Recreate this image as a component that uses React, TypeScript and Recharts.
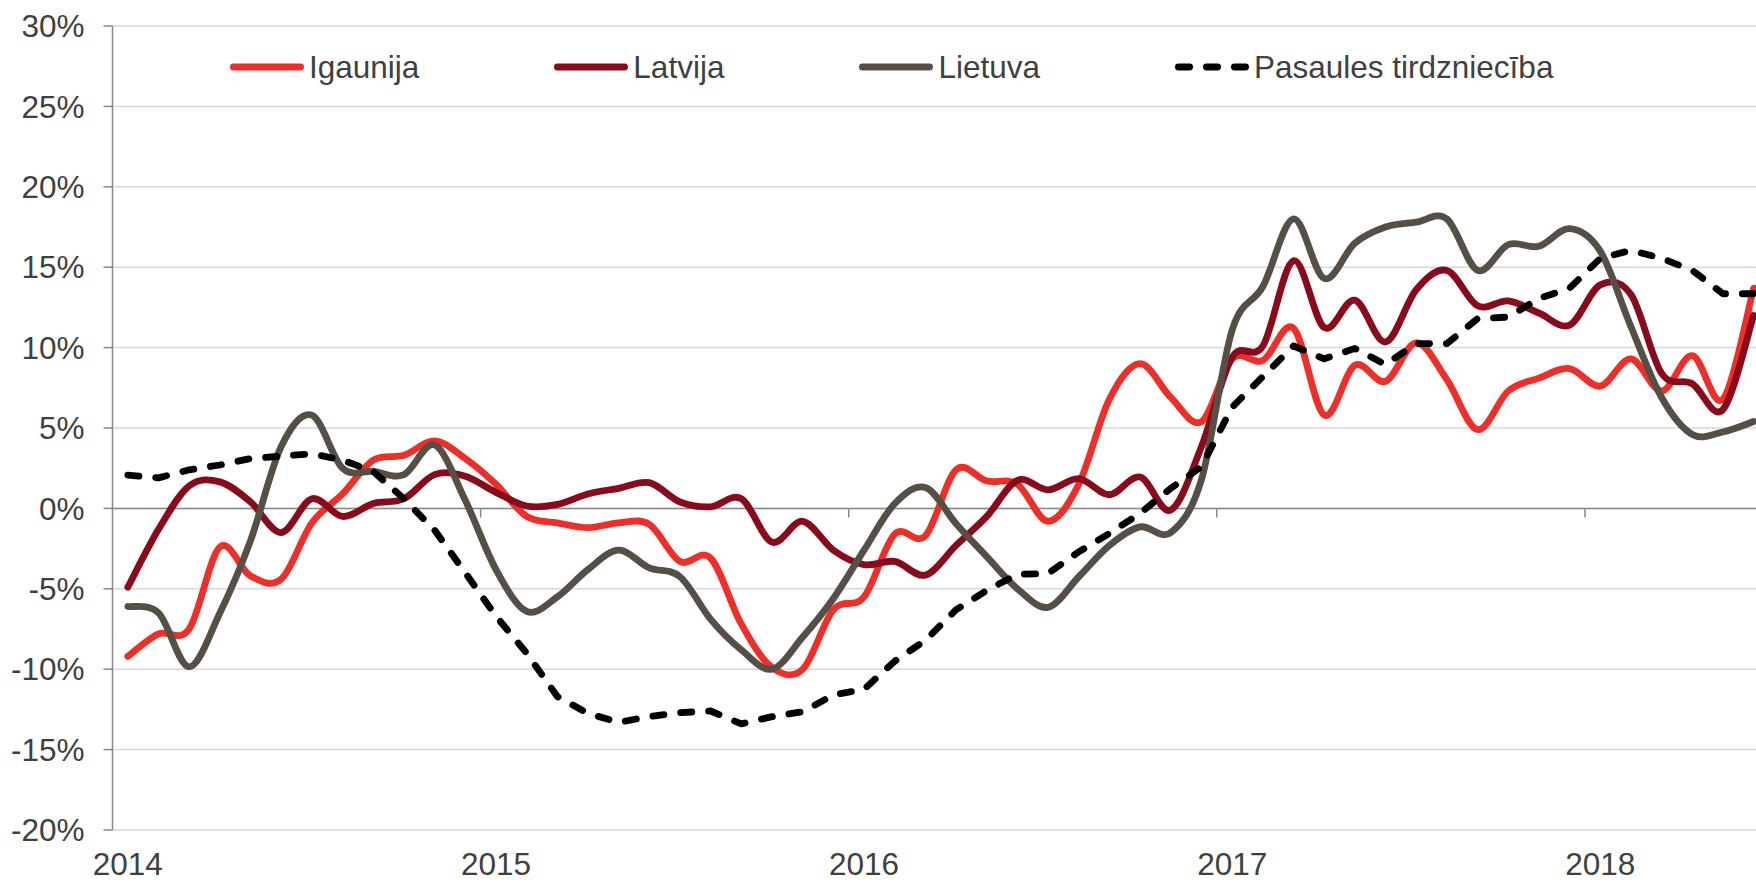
import React from 'react';
import { LineChart, Line, XAxis, YAxis, CartesianGrid, ReferenceLine, Legend } from 'recharts';

const YEARS: string[] = ['2014', '2015', '2016', '2017', '2018'];
const MONTH_NUMS: string[] = ['01', '02', '03', '04', '05', '06', '07', '08', '09', '10', '11', '12'];
const MONTHS: string[] = YEARS.flatMap((y) => MONTH_NUMS.map((m) => `${y}-${m}`)).slice(0, 54);

const IGAUNIJA: number[] = [
  -9.2, -7.8, -7.5, -2.4, -4.2, -4.4, -0.9, 0.9, 3.0, 3.3, 4.2, 3.1,
  1.5, -0.5, -0.9, -1.2, -0.9, -1.0, -3.3, -3.1, -7.2, -9.9, -10.0, -6.3,
  -5.5, -1.6, -1.7, 2.4, 1.7, 1.5, -0.8, 1.5, 6.8, 9.0, 6.9, 5.4,
  9.3, 9.2, 11.2, 5.8, 8.9, 7.9, 10.3, 8.0, 4.9, 7.3, 8.1, 8.7,
  7.6, 9.3, 7.3, 9.5, 6.8, 13.7,
];

const LATVIJA: number[] = [
  -4.9, -1.3, 1.4, 1.65, 0.4, -1.5, 0.6, -0.5, 0.3, 0.6, 2.1, 2.0,
  1.0, 0.15, 0.25, 0.9, 1.25, 1.6, 0.4, 0.1, 0.6, -2.1, -0.8, -2.6,
  -3.5, -3.3, -4.15, -2.3, -0.5, 1.75, 1.15, 1.85, 0.85, 1.95, -0.1, 3.85,
  9.4, 10.1, 15.4, 11.25, 12.95, 10.35, 13.6, 14.8, 12.6, 12.9, 12.15, 11.4,
  13.9, 13.3, 8.4, 7.75, 6.15, 12.0,
];

const LIETUVA: number[] = [
  -6.1, -6.5, -9.85, -6.5, -2.0, 3.85, 5.8, 2.5, 2.3, 2.1, 3.95, 0.5,
  -3.8, -6.4, -5.5, -3.8, -2.6, -3.7, -4.25, -6.9, -8.8, -10.0, -8.0, -5.6,
  -2.6, 0.3, 1.3, -0.95, -3.0, -5.0, -6.15, -4.25, -2.3, -1.15, -1.5, 1.8,
  11.1, 13.8, 18.0, 14.3, 16.5, 17.5, 17.8, 18.0, 14.8, 16.4, 16.3, 17.4,
  16.0, 11.3, 6.9, 4.6, 4.75, 5.4,
];

const PASAULES: number[] = [
  2.07, 1.9, 2.4, 2.7, 3.1, 3.25, 3.4, 3.0, 2.3, 0.6, -1.35, -4.0,
  -6.7, -9.0, -11.7, -12.75, -13.3, -12.95, -12.7, -12.6, -13.4, -12.95, -12.65, -11.6,
  -11.25, -9.5, -8.2, -6.3, -5.1, -4.1, -4.05, -2.7, -1.55, -0.3, 1.25, 2.6,
  6.3, 8.2, 10.1, 9.3, 9.95, 8.95, 10.25, 10.25, 11.8, 11.9, 13.05, 13.7,
  15.55, 16.05, 15.55, 14.8, 13.35, 13.35,
];

const Y_TICKS: number[] = [-20, -15, -10, -5, 0, 5, 10, 15, 20, 25, 30];

const data = MONTHS.map((m, i) => ({
  month: m,
  t: i + 0.5,
  ig: IGAUNIJA[i],
  lv: LATVIJA[i],
  lt: LIETUVA[i],
  pw: PASAULES[i],
}));

const YEAR_LABEL_TICKS = YEARS.map((_, k) => k * 12 + 0.5);
const YEAR_BOUNDARIES = YEARS.slice(1).map((_, k) => (k + 1) * 12);

// Excel-like smoothed line (uniform Catmull-Rom as cubic Bezier)
function excelSmooth(context: any) {
  let pts: [number, number][] = [];
  return {
    areaStart() {},
    areaEnd() {},
    lineStart() {
      pts = [];
    },
    point(x: number, y: number) {
      pts.push([+x, +y]);
    },
    lineEnd() {
      const n = pts.length;
      if (!n) return;
      context.moveTo(pts[0][0], pts[0][1]);
      for (let i = 0; i < n - 1; i++) {
        const p0 = pts[Math.max(0, i - 1)];
        const p1 = pts[i];
        const p2 = pts[i + 1];
        const p3 = pts[Math.min(n - 1, i + 2)];
        context.bezierCurveTo(
          p1[0] + (p2[0] - p0[0]) / 6,
          p1[1] + (p2[1] - p0[1]) / 6,
          p2[0] - (p3[0] - p1[0]) / 6,
          p2[1] - (p3[1] - p1[1]) / 6,
          p2[0],
          p2[1]
        );
      }
    },
  };
}

const FONT = '"Liberation Sans", Arial, sans-serif';
const TEXT_COLOR = '#404040';
const AXIS_COLOR = '#898989';
const GRID_COLOR = '#D9D9D9';
const LINE_W = 6.8;
const DASH = '11.2 16.8';

const SERIES = [
  { key: 'ig', name: 'Igaunija', color: '#ED2F2A', dashed: false },
  { key: 'lv', name: 'Latvija', color: '#880A1B', dashed: false },
  { key: 'lt', name: 'Lietuva', color: '#564F45', dashed: false },
  { key: 'pw', name: 'Pasaules tirdzniecība', color: '#000000', dashed: true },
];

const renderLegend = () => (
  <div style={{ display: 'flex', alignItems: 'center', whiteSpace: 'nowrap', height: 34 }}>
    {SERIES.map((s, idx) => (
      <div
        key={s.key}
        style={{ display: 'flex', alignItems: 'center', marginRight: idx < SERIES.length - 1 ? 135 : 0 }}
      >
        <svg width={74} height={10} style={{ display: 'block', marginRight: 5 }}>
          <line
            x1={LINE_W / 2}
            y1={5}
            x2={74 - LINE_W / 2}
            y2={5}
            stroke={s.color}
            strokeWidth={LINE_W}
            strokeLinecap="round"
            strokeDasharray={s.dashed ? DASH : undefined}
          />
        </svg>
        <span style={{ fontFamily: FONT, fontSize: 31.5, color: TEXT_COLOR, lineHeight: '34px' }}>{s.name}</span>
      </div>
    ))}
  </div>
);

export default function App() {
  return (
    <div
      style={{
        position: 'absolute',
        left: 0,
        top: 0,
        width: 1756,
        height: 883,
        overflow: 'hidden',
        background: '#ffffff',
      }}
    >
      <LineChart
        width={1769}
        height={883}
        data={data}
        margin={{ top: 26, right: 0, bottom: 0, left: 0 }}
      >
        <CartesianGrid vertical={false} stroke={GRID_COLOR} strokeWidth={1.5} />
        <XAxis
          dataKey="t"
          type="number"
          domain={[0, 54]}
          ticks={YEAR_LABEL_TICKS}
          interval={0}
          tickFormatter={(v: number) => YEARS[Math.floor(v / 12)]}
          axisLine={false}
          tickLine={false}
          tickSize={0}
          tickMargin={23}
          height={53}
          tick={{ fontFamily: FONT, fontSize: 31.5, fill: TEXT_COLOR }}
        />
        <YAxis
          type="number"
          domain={[-20, 30]}
          ticks={Y_TICKS}
          interval={0}
          tickFormatter={(v: number) => `${v}%`}
          width={112.5}
          tickSize={9}
          tickMargin={19}
          axisLine={{ stroke: AXIS_COLOR, strokeWidth: 1.5 }}
          tickLine={{ stroke: AXIS_COLOR, strokeWidth: 1.5 }}
          tick={{ fontFamily: FONT, fontSize: 31.5, fill: TEXT_COLOR }}
        />
        <ReferenceLine y={0} stroke={AXIS_COLOR} strokeWidth={1.5} />
        {YEAR_BOUNDARIES.map((b) => (
          <ReferenceLine
            key={b}
            segment={[
              { x: b, y: 0 },
              { x: b, y: -0.56 },
            ]}
            stroke={AXIS_COLOR}
            strokeWidth={1.5}
          />
        ))}
        <Legend
          layout="vertical"
          align="center"
          verticalAlign="middle"
          content={renderLegend}
          wrapperStyle={{ top: 50, left: 230, width: 'auto' }}
        />
        {SERIES.map((s) => (
          <Line
            key={s.key}
            dataKey={s.key}
            name={s.name}
            type={s.dashed ? 'linear' : (excelSmooth as any)}
            stroke={s.color}
            strokeWidth={LINE_W}
            strokeLinecap="round"
            strokeLinejoin="round"
            strokeDasharray={s.dashed ? DASH : undefined}
            dot={false}
            activeDot={false}
            isAnimationActive={false}
          />
        ))}
      </LineChart>
    </div>
  );
}
